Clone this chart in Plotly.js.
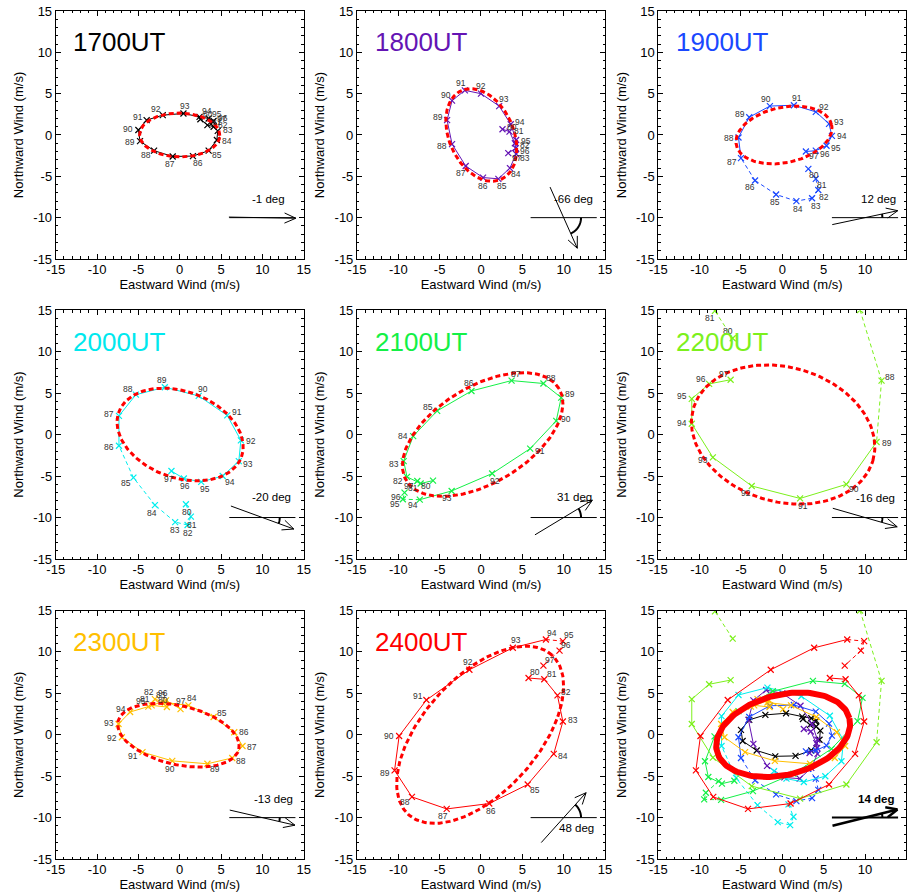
<!DOCTYPE html>
<html><head><meta charset="utf-8">
<script src="https://cdn.plot.ly/plotly-3.0.1.min.js"></script>
<style>html,body{margin:0;padding:0;background:#fff}#chart{width:912px;height:894px}</style>
</head><body><div id="chart"></div>
<script>
// ---------------- DATA ----------------
const years = [80,81,82,83,84,85,86,87,88,89,90,91,92,93,94,95,96,97];
const panelTimes = ['1700UT','1800UT','1900UT','2000UT','2100UT','2200UT','2300UT','2400UT'];

const u1700 = [2.5,3.35,4.1,4.6,4.5,3.5,1.6,-0.85,-3.1,-4.8,-5.0,-4.0,-2.05,0.45,2.4,3.5,4.1,4.0];
const v1700 = [1.9,1.2,1.0,0.5,-0.6,-1.9,-2.55,-2.6,-1.9,-0.75,0.6,1.8,2.4,2.6,2.2,2.0,1.7,1.6];

const u1800 = [2.6,3.45,4.1,4.25,3.5,2.1,0.25,-1.85,-3.5,-4.1,-3.5,-1.95,0.0,2.2,3.6,4.25,4.2,3.3];
const v1800 = [0.7,0.4,-1.0,-2.3,-4.0,-5.3,-5.15,-3.75,-1.1,1.8,4.15,5.4,5.0,3.5,1.3,-0.6,-1.6,-2.2];

const u1900 = [3.15,4.05,4.35,3.6,1.7,-0.75,-3.3,-5.0,-5.3,-4.0,-1.5,1.4,4.05,5.65,6.0,5.35,4.05,2.85];
const v1900 = [-4.1,-5.3,-6.65,-7.65,-8.0,-7.2,-5.5,-2.8,-0.3,2.15,3.5,3.6,2.8,1.35,-0.1,-1.3,-1.9,-2.0];

const u2000 = [0.75,1.35,0.95,-0.55,-3.0,-5.6,-7.35,-7.35,-5.3,-1.8,2.3,5.75,7.4,7.15,5.2,2.6,0.5,-1.0];
const v2000 = [-8.4,-9.9,-10.9,-10.55,-8.5,-5.2,-1.35,2.25,4.8,5.7,4.65,2.3,-0.7,-3.2,-5.0,-5.7,-5.3,-4.4];

const u2100 = [-5.8,-7.3,-8.95,-9.35,-8.2,-5.3,-1.15,3.7,7.55,9.7,9.1,5.95,1.35,-3.55,-7.4,-9.45,-9.25,-7.7];
const v2100 = [-5.55,-5.9,-5.1,-3.2,-0.2,2.85,5.25,6.5,6.15,4.45,1.65,-1.7,-4.7,-6.8,-7.85,-7.8,-7.0,-5.6];

const u2200 = [-6.0,-8.15,null,null,null,null,null,9.4,12.0,11.4,7.75,2.15,-3.7,-8.4,-10.95,-10.95,-8.85,-6.25];
const v2200 = [11.6,14.9,null,null,null,null,null,15.0,6.5,-0.9,-6.0,-7.7,-6.2,-2.75,1.3,4.3,6.1,6.6];

const u2300 = [-1.55,-3.4,-3.0,-1.8,1.05,4.1,6.6,7.6,6.35,3.35,-0.9,-4.5,-7.0,-7.4,-6.0,-3.8,-1.65,0.1];
const v2300 = [3.35,3.55,4.3,3.9,3.55,2.15,0.3,-1.35,-2.8,-3.5,-3.15,-2.1,-0.3,1.3,2.75,3.4,4.15,3.1];

const u2400 = [5.75,7.65,9.25,9.9,8.8,5.65,1.0,-4.15,-8.35,-10.45,-9.9,-6.6,-1.4,3.85,7.85,9.9,9.5,7.55];
const v2400 = [6.85,6.7,4.75,1.6,-2.3,-6.0,-8.3,-8.95,-7.5,-4.3,-0.15,4.2,7.85,10.5,11.5,11.3,10.15,8.35];

// years not used in the fit (drawn dashed)
const flagged1700 = [];
const flagged1800 = [];
const flagged1900 = [80,81,82,83,84,85,86];
const flagged2000 = [80,81,82,83,84,85];
const flagged2100 = [95,96,97];
const flagged2200 = [80,81,82,83,84,85,86,87,88];
const flagged2300 = [];
const flagged2400 = [95,96,97];

// fitted ellipses: orientation (deg), centre, semi-axes
const fitAngle = [-1,-66,12,-20,31,-16,-13,48];
const fitCx = [0.0,0.04,0.2,0.05,0.2,0.1,-0.15,-0.1];
const fitCy = [0.0,0.0,0.0,0.0,0.0,0.0,-0.05,0.0];
const fitA  = [4.85,5.88,5.89,7.9,10.77,11.3,7.5,12.96];
const fitB  = [2.65,3.9,3.35,5.2,5.81,8.1,3.55,6.96];
const meanAngle = [14];
const meanCx = [0.1], meanCy = [0.0], meanA = [8.26], meanB = [4.84];

const tickVals = [-15,-10,-5,0,5,10,15];
const tickText = ['-15','-10','-5','0','5','10','15'];

// ---------------- STYLE / LAYOUT ----------------
const U = [u1700,u1800,u1900,u2000,u2100,u2200,u2300,u2400];
const V = [v1700,v1800,v1900,v2000,v2100,v2200,v2300,v2400];
const F = [flagged1700,flagged1800,flagged1900,flagged2000,flagged2100,flagged2200,flagged2300,flagged2400];
const colors = ['#000000','#6414b4','#1a48ff','#00eeee','#14f046','#7cf01c','#ffbf00','#ff0000'];
const titleColors = ['#000000','#6414b4','#1a48ff','#00e8ee','#14f046','#7cf01c','#ffbf00','#ff0000'];
const FONT = 'Liberation Sans, Arial, Helvetica, sans-serif';

const xDom = [[0.0611,0.3330],[0.3914,0.6634],[0.7218,0.9938]];
const yDom = [[0.7103,0.9877],[0.3747,0.6532],[0.0391,0.3171]];
const minorVals = [];
for (let k=-15;k<=15;k++) if (k%5!==0) minorVals.push(k);

const layout = {
  width:912, height:894, margin:{l:0,r:0,t:0,b:0},
  paper_bgcolor:'#fff', plot_bgcolor:'#fff', showlegend:false,
  font:{family:FONT, color:'#000', size:13},
  annotations:[], shapes:[]
};
function axis(dom, anchor, title, isX){
  const ax = {
    domain:dom, anchor:anchor, range:[-15,15], tickmode:'array', tickvals:tickVals, ticktext:tickText,
    ticks:'inside', ticklen:5, tickwidth:1, tickcolor:'#000', mirror:'allticks',
    showline:true, linecolor:'#000', linewidth:1, showgrid:false, zeroline:false,
    minor:{tickmode:'array', tickvals:minorVals, ticks:'inside', ticklen:2.5, tickwidth:1, tickcolor:'#000', showgrid:false},
    tickfont:{size:13, color:'#000', family:FONT}, fixedrange:true, automargin:false,
    title:{text:title, font:{size:13, color:'#000', family:FONT}, standoff: isX?0:6}
  };
  if (isX) ax.ticklabelstandoff = -2;
  return ax;
}
for (let p=0;p<9;p++){
  const r=Math.floor(p/3), c=p%3, s=p===0?'':String(p+1);
  layout['xaxis'+s] = axis(xDom[c], 'y'+s, 'Eastward Wind (m/s)', true);
  layout['yaxis'+s] = axis(yDom[r], 'x'+s, 'Northward Wind (m/s)', false);
}

const traces = [];
function addSeries(p, axSuffix, withLabels){
  const u=U[p], v=V[p], fl=F[p], col=colors[p];
  const xa='x'+axSuffix, ya='y'+axSuffix;
  const sx=[], sy=[], dx=[], dy=[];
  for (let i=0;i<years.length-1;i++){
    if (u[i]===null || u[i+1]===null) continue;
    const dashed = fl.includes(years[i]) || fl.includes(years[i+1]);
    const X = dashed?dx:sx, Y = dashed?dy:sy;
    X.push(u[i],u[i+1],null); Y.push(v[i],v[i+1],null);
  }
  traces.push({type:'scatter',mode:'lines',x:sx,y:sy,xaxis:xa,yaxis:ya,line:{color:col,width:1},hoverinfo:'skip'});
  traces.push({type:'scatter',mode:'lines',x:dx,y:dy,xaxis:xa,yaxis:ya,line:{color:col,width:1,dash:'4px,3px'},hoverinfo:'skip'});
  traces.push({type:'scatter',mode:'markers',x:u,y:v,xaxis:xa,yaxis:ya,
    marker:{symbol:'x-thin',size:6,line:{color:col,width:1.2}},hoverinfo:'skip'});
  if (withLabels){
    for (let i=0;i<years.length;i++){
      if (u[i]===null || Math.abs(v[i])>=15 || Math.abs(u[i])>=15) continue;
      let ddx=u[i]-fitCx[p], ddy=v[i]-fitCy[p]; const rr=Math.hypot(ddx,ddy)||1;
      let xs=10*ddx/rr, ys=8*ddy/rr;
      if (v[i]+ys/8.27>14.3 || v[i]+ys/8.27<-14.3) ys=-ys;
      if (u[i]+xs/8.27>14.3 || u[i]+xs/8.27<-14.3) xs=-xs;
      layout.annotations.push({xref:xa,yref:ya,x:u[i],y:v[i],xshift:xs,yshift:ys,text:String(years[i]),
        showarrow:false,font:{size:8.5,color:'#333',family:FONT},xanchor:'center',yanchor:'middle'});
    }
  }
}
function ellipseTrace(cx,cy,a,b,angDeg,axSuffix,lineStyle){
  const t=angDeg*Math.PI/180, xs=[], ys=[];
  for (let k=0;k<=180;k++){
    const s=2*Math.PI*k/180, ex=a*Math.cos(s), ey=b*Math.sin(s);
    xs.push(cx+ex*Math.cos(t)-ey*Math.sin(t)); ys.push(cy+ex*Math.sin(t)+ey*Math.cos(t));
  }
  traces.push({type:'scatter',mode:'lines',x:xs,y:ys,xaxis:'x'+axSuffix,yaxis:'y'+axSuffix,line:lineStyle,hoverinfo:'skip'});
}
function angleGlyph(angDeg, axSuffix, w, labelPos, bold){
  const xr='x'+axSuffix, yr='y'+axSuffix, t=angDeg*Math.PI/180, L=4.05, c0=10, c1=-10;
  const tail=[c0-L*Math.cos(t), c1-L*Math.sin(t)], head=[c0+L*Math.cos(t), c1+L*Math.sin(t)];
  const ln = (x0,y0,x1,y1,ww)=>layout.shapes.push({type:'line',xref:xr,yref:yr,x0,y0,x1,y1,line:{color:'#000',width:ww}});
  ln(6,-10,14,-10,w===1?1:2);
  ln(tail[0],tail[1],head[0],head[1],w);
  for (const sg of [1,-1]){
    const wa=t+Math.PI+sg*0.42;
    ln(head[0],head[1],head[0]+1.5*Math.cos(wa),head[1]+1.5*Math.sin(wa),w);
  }
  let path='';
  const n=Math.max(2,Math.ceil(Math.abs(angDeg)/3));
  for (let k=0;k<=n;k++){
    const aa=t*k/n; path+=(k?' L ':'M ')+(c0+2.1*Math.cos(aa)).toFixed(3)+','+(c1+2.1*Math.sin(aa)).toFixed(3);
  }
  layout.shapes.push({type:'path',xref:xr,yref:yr,path,line:{color:'#000',width:2}});
  layout.annotations.push({xref:xr,yref:yr,x:labelPos[0],y:labelPos[1],text:(bold?'<b>':'')+angDeg+' deg'+(bold?'</b>':''),
    showarrow:false,font:{size:11.5,color:'#000',family:FONT},xanchor:'center',yanchor:'middle'});
}

const degLabelPos = [[10.8,-7.7],[11.2,-7.7],[11.6,-7.8],[11.1,-7.5],[11.3,-7.5],[11.3,-7.7],[11.3,-7.7],[11.5,-11.3]];
for (let p=0;p<8;p++){
  const s=p===0?'':String(p+1);
  addSeries(p, s, true);
  ellipseTrace(fitCx[p],fitCy[p],fitA[p],fitB[p],fitAngle[p],s,{color:'#ff0000',width:3,dash:'5px,3px'});
  angleGlyph(fitAngle[p], s, 1, degLabelPos[p], false);
  layout.annotations.push({xref:'x'+s,yref:'y'+s,x:-13.1,y:11.2,text:panelTimes[p],showarrow:false,
    xanchor:'left',yanchor:'middle',font:{size:26,color:titleColors[p],family:FONT}});
}
// composite panel
for (let p=0;p<8;p++) addSeries(p,'9',false);
ellipseTrace(meanCx[0],meanCy[0],meanA[0],meanB[0],meanAngle[0],'9',{color:'#ff0000',width:6});
angleGlyph(meanAngle[0],'9',2.5,[11.3,-7.7],true);

Plotly.newPlot('chart', traces, layout, {displayModeBar:false, staticPlot:true});
</script></body></html>
